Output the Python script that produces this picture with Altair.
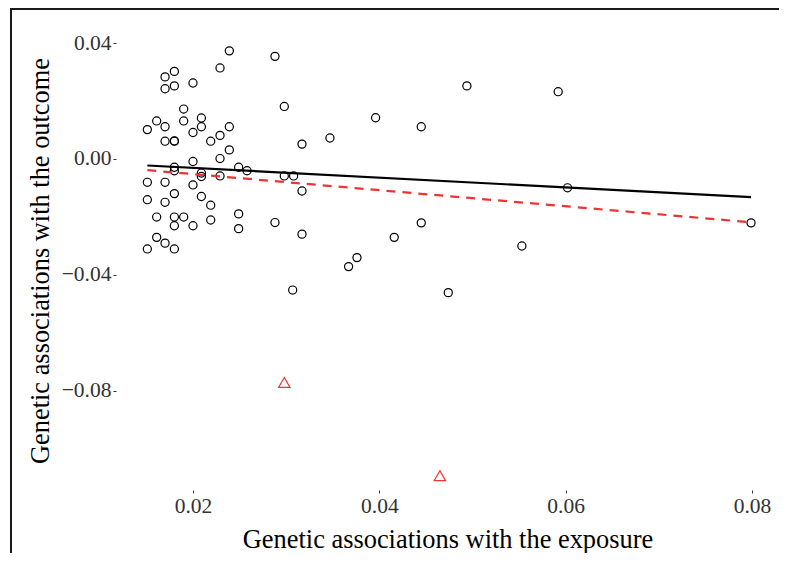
import altair as alt
import pandas as pd

# SNP-level associations (circles)
exposure = [0.0239, 0.0288, 0.0229, 0.0180, 0.0170, 0.0200, 0.0170, 0.0180, 0.0298, 0.0190,
            0.0161, 0.0190, 0.0209, 0.0396, 0.0151, 0.0170, 0.0209, 0.0239, 0.0200, 0.0229,
            0.0170, 0.0180, 0.0180, 0.0219, 0.0347, 0.0317, 0.0239, 0.0229, 0.0200, 0.0180,
            0.0180, 0.0249, 0.0258, 0.0209, 0.0209, 0.0229, 0.0298, 0.0308, 0.0151, 0.0170,
            0.0200, 0.0317, 0.0180, 0.0151, 0.0209, 0.0170, 0.0219, 0.0161, 0.0180, 0.0190,
            0.0249, 0.0180, 0.0200, 0.0219, 0.0288, 0.0249, 0.0317, 0.0161, 0.0170, 0.0151,
            0.0180, 0.0376, 0.0367, 0.0494, 0.0592, 0.0445, 0.0602, 0.0799, 0.0445, 0.0416,
            0.0553, 0.0474, 0.0307]
outcome = [0.0373, 0.0354, 0.0314, 0.0302, 0.0283, 0.0262, 0.0242, 0.0252, 0.0181, 0.0172,
           0.0131, 0.0131, 0.0141, 0.0142, 0.0101, 0.0111, 0.0111, 0.0111, 0.0091, 0.0081,
           0.0061, 0.0061, 0.0062, 0.0061, 0.0072, 0.0051, 0.0031, 0.0001, -0.0009, -0.0029,
           -0.0041, -0.0029, -0.0041, -0.0049, -0.0061, -0.0059, -0.0059, -0.0059, -0.0081, -0.0081,
           -0.0090, -0.0111, -0.0120, -0.0141, -0.0130, -0.0150, -0.0160, -0.0201, -0.0201, -0.0201,
           -0.0190, -0.0231, -0.0231, -0.0211, -0.0220, -0.0241, -0.0260, -0.0271, -0.0291, -0.0311,
           -0.0311, -0.0341, -0.0372, 0.0252, 0.0232, 0.0111, -0.0100, -0.0221, -0.0221, -0.0271,
           -0.0301, -0.0462, -0.0453]

# Outliers (red triangles)
outlier_exposure = [0.0298, 0.0465]
outlier_outcome = [-0.0772, -0.1094]

# Fitted lines (endpoints)
line_x = [0.0151, 0.0799]
line_solid_y = [-0.0023, -0.0132]
line_dashed_y = [-0.0039, -0.0219]

x_ticks = [0.02, 0.04, 0.06, 0.08]
y_ticks = [-0.08, -0.04, 0.0, 0.04]

W, H = 663, 459
FONT = "Liberation Serif"
RED = "#EE3333"

pts = pd.DataFrame({"x": exposure, "y": outcome})
outl = pd.DataFrame({"x": outlier_exposure, "y": outlier_outcome})
solid = pd.DataFrame({"x": line_x, "y": line_solid_y})
dashed = pd.DataFrame({"x": line_x, "y": line_dashed_y})

xs = alt.Scale(domain=[0.011735, 0.08290], nice=False, zero=False)
ys = alt.Scale(domain=[-0.11434, 0.04415], nice=False, zero=False)

common = dict(domain=False, grid=False, ticks=True, tickSize=3, tickColor="#333333", tickWidth=1,
              labelFont=FONT, labelFontSize=21.5, labelColor="#333333", labelPadding=2,
              titleFont=FONT, titleFontSize=26.4, titleFontWeight="normal", titleColor="black")

xax = alt.Axis(values=x_ticks, format=".2f", title="Genetic associations with the exposure",
               titlePadding=10, **common)
yax = alt.Axis(values=y_ticks, format=".2f", title="Genetic associations with the outcome",
               titlePadding=7, **common)

base_x = alt.X("x:Q", scale=xs, axis=xax)
base_y = alt.Y("y:Q", scale=ys, axis=yax)

circles = alt.Chart(pts).mark_point(shape="circle", filled=False, color="black",
                                    size=66, strokeWidth=1.2, opacity=1).encode(x=base_x, y=base_y)
tris = alt.Chart(outl).mark_point(shape="triangle-up", filled=False, color=RED,
                                  size=130, strokeWidth=1.2, opacity=1).encode(x="x:Q", y="y:Q")
l1 = alt.Chart(solid).mark_line(color="black", strokeWidth=2.2).encode(x="x:Q", y="y:Q")
l2 = alt.Chart(dashed).mark_line(color=RED, strokeWidth=2.2, strokeDash=[9, 7]).encode(x="x:Q", y="y:Q")

frame_top = alt.Chart(pd.DataFrame({"a": [0]})).mark_rule(color="#1a1a1a", strokeWidth=2).encode(
    x=alt.value(-106), x2=alt.value(W), y=alt.value(-22))
frame_left = alt.Chart(pd.DataFrame({"a": [0]})).mark_rule(color="#1a1a1a", strokeWidth=2).encode(
    x=alt.value(-105), y=alt.value(-23), y2=alt.value(H + 100))

chart = alt.layer(circles, l1, l2, tris, frame_top, frame_left).properties(
    width=W, height=H,
    autosize=alt.AutoSizeParams(type="none"),
    padding={"left": 108, "top": 23, "right": 0, "bottom": 63},
).configure_view(stroke=None).configure_axis(**common)

chart.save("out.html", embed_options={"renderer": "svg", "actions": False})
